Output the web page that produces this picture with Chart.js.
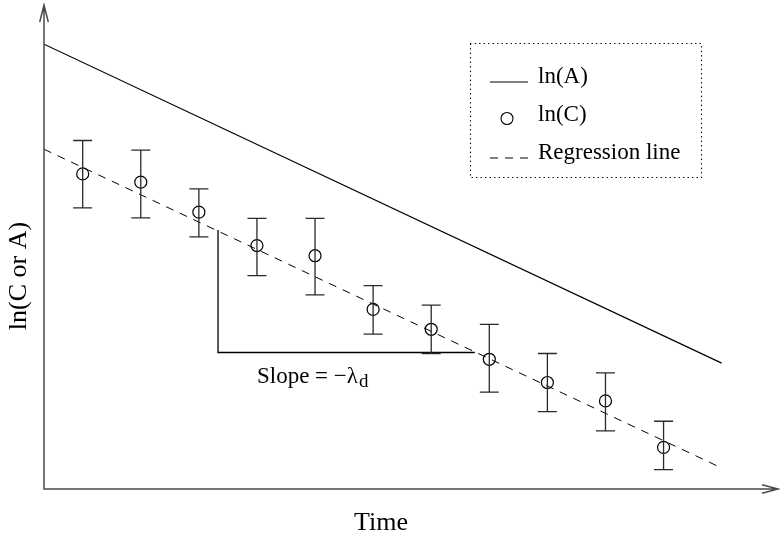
<!DOCTYPE html>
<html>
<head>
    <title>ln(C or A) vs Time</title>
    <script src="https://cdn.jsdelivr.net/npm/chart.js@4.4.0/dist/chart.umd.min.js"></script>
    <style>
        html, body { margin: 0; padding: 0; background: white; overflow: hidden; }
        canvas { display: block; }
    </style>
</head>
<body>
    <canvas id="decayChart" width="780" height="533"></canvas>
    <script>
        // ln(C) measurements with their error bars
        const timePoints = [1, 2, 3, 4, 5, 6, 7, 8, 9, 10, 11];
        const lnC = [6.51, 6.34, 5.72, 5.03, 4.82, 3.71, 3.30, 2.68, 2.20, 1.82, 0.86];
        const lnCLow = [5.81, 5.60, 5.21, 4.41, 4.01, 3.20, 2.80, 2.00, 1.60, 1.20, 0.40];
        const lnCHigh = [7.20, 7.00, 6.20, 5.59, 5.59, 4.20, 3.80, 3.40, 2.80, 2.40, 1.40];

        // the two straight lines (start and end)
        const lineX = [0.334, 12.0];
        const lnA = [9.19, 2.60];
        const regression = [7.02, 0.434];

        // slope triangle
        const slopeX = [3.33, 3.33, 7.75];
        const slopeY = [5.35, 2.82, 2.82];
        const slopeLabelPos = [4.0, 2.18];

        const xRange = [0.334, 12.97];
        const yRange = [0, 10];

        const serif = "'Liberation Serif', 'DejaVu Serif', serif";
        const axisColor = '#4a4a4a';

        function pts(xs, ys) {
            return xs.map((x, i) => ({ x: x, y: ys[i] }));
        }

        // error bars for the ln(C) dataset
        const errorBars = {
            id: 'errorBars',
            afterDatasetsDraw(chart) {
                const ctx = chart.ctx;
                const xs = chart.scales.x, ys = chart.scales.y;
                ctx.save();
                ctx.strokeStyle = '#2a2a2a';
                ctx.lineWidth = 1.3;
                timePoints.forEach((t, i) => {
                    const px = xs.getPixelForValue(t);
                    const top = ys.getPixelForValue(lnCHigh[i]);
                    const bot = ys.getPixelForValue(lnCLow[i]);
                    ctx.beginPath();
                    ctx.moveTo(px, top); ctx.lineTo(px, bot);
                    ctx.moveTo(px - 9.5, top); ctx.lineTo(px + 9.5, top);
                    ctx.moveTo(px - 9.5, bot); ctx.lineTo(px + 9.5, bot);
                    ctx.stroke();
                });
                ctx.restore();
            }
        };

        // axes with arrows, axis titles, legend box, slope label
        const decor = {
            id: 'decor',
            afterDraw(chart) {
                const ctx = chart.ctx;
                const a = chart.chartArea;
                ctx.save();

                // axes
                ctx.strokeStyle = axisColor;
                ctx.lineWidth = 1.5;
                ctx.beginPath();
                ctx.moveTo(a.left, a.top); ctx.lineTo(a.left, a.bottom); ctx.lineTo(a.right, a.bottom);
                ctx.moveTo(a.left - 4.3, a.top + 17); ctx.lineTo(a.left, a.top); ctx.lineTo(a.left + 4.3, a.top + 17);
                ctx.moveTo(a.right - 16, a.bottom - 4.3); ctx.lineTo(a.right, a.bottom); ctx.lineTo(a.right - 16, a.bottom + 4.3);
                ctx.stroke();

                // axis titles
                ctx.fillStyle = '#000';
                ctx.font = '26px ' + serif;
                ctx.textAlign = 'center';
                ctx.textBaseline = 'alphabetic';
                ctx.fillText('Time', 381, 530);
                ctx.save();
                ctx.translate(26, 276);
                ctx.rotate(-Math.PI / 2);
                ctx.fillText('ln(C or A)', 0, 0);
                ctx.restore();

                // slope label
                const sx = chart.scales.x.getPixelForValue(slopeLabelPos[0]);
                const sy = chart.scales.y.getPixelForValue(slopeLabelPos[1]);
                ctx.textAlign = 'left';
                ctx.font = '23px ' + serif;
                const main = 'Slope = \u2212\u03bb';
                ctx.fillText(main, sx, sy);
                const w = ctx.measureText(main).width;
                ctx.font = '19px ' + serif;
                ctx.fillText('d', sx + w + 1, sy + 4);

                // legend
                ctx.strokeStyle = '#000';
                ctx.lineWidth = 1.2;
                ctx.lineCap = 'round';
                ctx.setLineDash([0.5, 4]);
                ctx.strokeRect(470.5, 43.5, 231, 134);
                ctx.lineCap = 'butt';

                const ds = chart.data.datasets;
                const rows = [77, 115, 153];
                ctx.font = '23px ' + serif;
                ctx.textBaseline = 'middle';
                [0, 1, 2].forEach((di, r) => {
                    const d = ds[di];
                    const y = rows[r];
                    ctx.strokeStyle = '#000';
                    ctx.lineWidth = 1.1;
                    if (d.showLine === false) {
                        ctx.setLineDash([]);
                        ctx.beginPath();
                        ctx.arc(507, y + 3.5, d.pointRadius, 0, Math.PI * 2);
                        ctx.stroke();
                    } else {
                        ctx.setLineDash(d.borderDash || []);
                        ctx.beginPath();
                        ctx.moveTo(490, y + 5); ctx.lineTo(528, y + 5);
                        ctx.stroke();
                    }
                    ctx.setLineDash([]);
                    ctx.fillText(d.label, 538, y);
                });
                ctx.restore();
            }
        };

        const ctx = document.getElementById('decayChart').getContext('2d');
        const chart = new Chart(ctx, {
            type: 'scatter',
            data: {
                datasets: [
                    {
                        label: 'ln(A)',
                        type: 'line',
                        data: pts(lineX, lnA),
                        borderColor: '#000',
                        borderWidth: 1.2,
                        pointRadius: 0,
                        fill: false
                    },
                    {
                        label: 'ln(C)',
                        data: pts(timePoints, lnC),
                        showLine: false,
                        borderColor: '#000',
                        backgroundColor: 'rgba(0,0,0,0)',
                        borderWidth: 1.2,
                        pointRadius: 6
                    },
                    {
                        label: 'Regression line',
                        type: 'line',
                        data: pts(lineX, regression),
                        borderColor: '#000',
                        borderWidth: 1,
                        borderDash: [8, 7],
                        pointRadius: 0,
                        fill: false
                    },
                    {
                        label: 'slope',
                        type: 'line',
                        data: pts(slopeX, slopeY),
                        borderColor: '#000',
                        borderWidth: 1.3,
                        pointRadius: 0,
                        tension: 0,
                        fill: false
                    }
                ]
            },
            options: {
                responsive: false,
                animation: false,
                layout: { autoPadding: false, padding: { left: 44, top: 5, right: 2, bottom: 44 } },
                scales: {
                    x: { type: 'linear', display: false, min: xRange[0], max: xRange[1] },
                    y: { type: 'linear', display: false, min: yRange[0], max: yRange[1] }
                },
                plugins: {
                    legend: { display: false },
                    tooltip: { enabled: false }
                }
            },
            plugins: [errorBars, decor]
        });
    </script>
</body>
</html>
